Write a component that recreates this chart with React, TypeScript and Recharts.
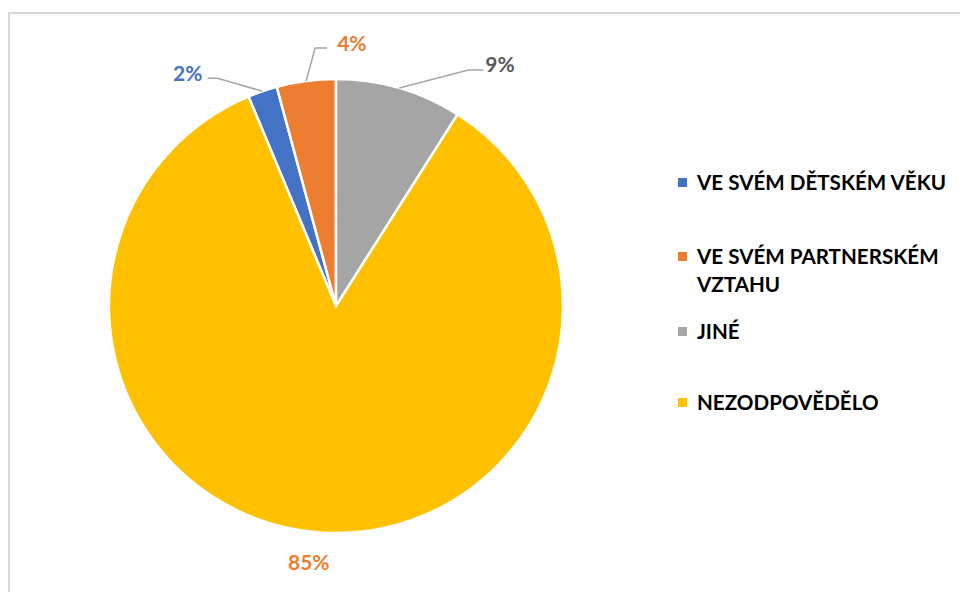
import { PieChart, Pie, Cell, Legend } from 'recharts';

const categories = ['VE SVÉM DĚTSKÉM VĚKU', 'VE SVÉM PARTNERSKÉM VZTAHU', 'JINÉ', 'NEZODPOVĚDĚLO'];
const shares = [2.1, 4.2, 9.0, 84.7];
const sliceColors = ['#4472C4', '#ED7D31', '#A5A5A5', '#FFC000'];
const labelColors = ['#4472C4', '#ED7D31', '#595959', '#ED7D31'];

const chartData = categories.map((name, i) => ({ name, value: shares[i] }));

// leader line layout per slice: elbow offset from slice edge, horizontal run, text gap
const labelLayout = [
  { elbow: [-45, -13], run: -10, gap: -5, textDy: -6, anchor: 'end' },
  { elbow: [9, -33], run: 12, gap: 10, textDy: -5, anchor: 'start' },
  { elbow: [69, -18], run: 15, gap: 2, textDy: -7, anchor: 'start' },
  { elbow: null, run: 0, gap: 0, textDy: 0, anchor: 'middle', shift: [-8, 29] },
];

const legendGaps = [0, 46, 19, 43];
const FONT = 'Lato, "Open Sans", sans-serif';
const RAD = Math.PI / 180;

function renderLabel(props: any) {
  const { cx, cy, midAngle, outerRadius, index, percent } = props;
  const ex = cx + outerRadius * Math.cos(-midAngle * RAD);
  const ey = cy + outerRadius * Math.sin(-midAngle * RAD);
  const lay = labelLayout[index];
  const text = `${Math.round(percent * 100)}%`;
  if (!lay.elbow) {
    return (
      <text
        x={ex + lay.shift![0]}
        y={ey + lay.shift![1]}
        textAnchor="middle"
        dominantBaseline="central"
        fill={labelColors[index]}
        fontFamily={FONT}
        fontWeight={700}
        fontSize={21}
      >
        {text}
      </text>
    );
  }
  const bx = ex + lay.elbow[0];
  const by = ey + lay.elbow[1];
  const endX = bx + lay.run;
  return (
    <g>
      <polyline points={`${ex},${ey} ${bx},${by} ${endX},${by}`} fill="none" stroke="#A6A6A6" strokeWidth={1.5} />
      <text
        x={endX + lay.gap}
        y={by + lay.textDy}
        textAnchor={lay.anchor as any}
        dominantBaseline="central"
        fill={labelColors[index]}
        fontFamily={FONT}
        fontWeight={700}
        fontSize={21}
      >
        {text}
      </text>
    </g>
  );
}

function renderLegend(props: any) {
  const items = [...(props.payload || [])].sort(
    (a: any, b: any) => categories.indexOf(a.value) - categories.indexOf(b.value),
  );
  return (
    <div style={{ fontFamily: FONT, fontWeight: 700, fontSize: 20.6, color: '#000' }}>
      {items.map((entry: any, i: number) => (
        <div key={entry.value} style={{ display: 'flex', alignItems: 'flex-start', marginTop: legendGaps[i], lineHeight: '28px' }}>
          <span style={{ width: 9, height: 9, background: entry.color, marginTop: 10, marginLeft: 2, marginRight: 10, flexShrink: 0 }} />
          <span style={{ width: 262 }}>{entry.value}</span>
        </div>
      ))}
    </div>
  );
}

export default function App() {
  return (
    <div style={{ position: 'fixed', left: 0, top: 0, width: 960, height: 592, background: '#fff', overflow: 'hidden' }}>
      <div style={{ position: 'absolute', left: 8, top: 12, width: 1000, height: 1000, border: '2px solid #D9D9D9' }} />
      <div style={{ position: 'absolute', left: 0, top: 0 }}>
        <PieChart width={960} height={592} margin={{ top: 0, right: 0, bottom: 0, left: 0 }}>
          <Pie
            data={chartData}
            dataKey="value"
            nameKey="name"
            cx={336}
            cy={306}
            outerRadius={227}
            startAngle={90 + 22.68}
            endAngle={90 + 22.68 - 360}
            stroke="#fff"
            strokeWidth={2.5}
            label={renderLabel}
            labelLine={false}
            isAnimationActive={false}
          >
            {chartData.map((d, i) => (
              <Cell key={d.name} fill={sliceColors[i]} />
            ))}
          </Pie>
          <Legend
            layout="vertical"
            align="right"
            verticalAlign="top"
            content={renderLegend}
            wrapperStyle={{ position: 'absolute', left: 676, top: 168, width: 284 }}
          />
        </PieChart>
      </div>
    </div>
  );
}
